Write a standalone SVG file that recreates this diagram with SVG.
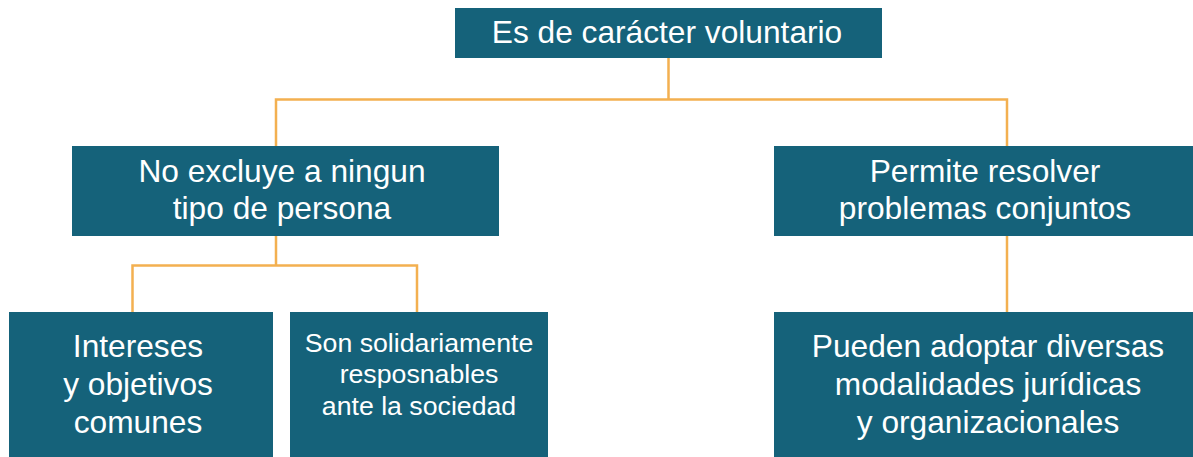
<svg xmlns="http://www.w3.org/2000/svg" width="1193" height="457" viewBox="0 0 1193 457">
<style>
.box{fill:#15627a}
.t{font-family:"Liberation Sans",Arial,sans-serif;fill:#ffffff;text-anchor:middle}
.big{font-size:31.7px}
.small{font-size:26.7px}
.conn{fill:none;stroke:#f3b050;stroke-width:2.5}
</style>
<rect width="1193" height="457" fill="#ffffff"/>
<g id="connectors">
<path class="conn" d="M668.5 58V99.5M276 146V99.5H1007V146"/>
<path class="conn" d="M276 236V265.5M132.5 312V265.5H417V312"/>
<path class="conn" d="M1007 236V312"/>
</g>
<g id="n-top">
<rect class="box" x="455" y="8" width="427" height="50"/>
<text class="t big" x="667" y="43.3">Es de carácter voluntario</text>
</g>
<g id="n-left">
<rect class="box" x="72" y="146" width="427" height="90"/>
<text class="t big" x="282" y="181.7">No excluye a ningun</text>
<text class="t big" x="282" y="219.3">tipo de persona</text>
</g>
<g id="n-right">
<rect class="box" x="774" y="146" width="419" height="90"/>
<text class="t big" x="985" y="181.7">Permite resolver</text>
<text class="t big" x="985" y="219.3">problemas conjuntos</text>
</g>
<g id="n-intereses">
<rect class="box" x="9" y="312" width="264" height="145"/>
<text class="t big" x="138" y="356.7">Intereses</text>
<text class="t big" x="138" y="394.5">y objetivos</text>
<text class="t big" x="138" y="432.5">comunes</text>
</g>
<g id="n-solidarios">
<rect class="box" x="290" y="312" width="258" height="145"/>
<text class="t small" x="419" y="351.7">Son solidariamente</text>
<text class="t small" x="419" y="383.3">resposnables</text>
<text class="t small" x="419" y="415">ante la sociedad</text>
</g>
<g id="n-modalidades">
<rect class="box" x="774" y="312" width="419" height="145"/>
<text class="t big" x="988" y="356.7">Pueden adoptar diversas</text>
<text class="t big" x="988" y="394.5">modalidades jurídicas</text>
<text class="t big" x="988" y="432.5">y organizacionales</text>
</g>
</svg>
